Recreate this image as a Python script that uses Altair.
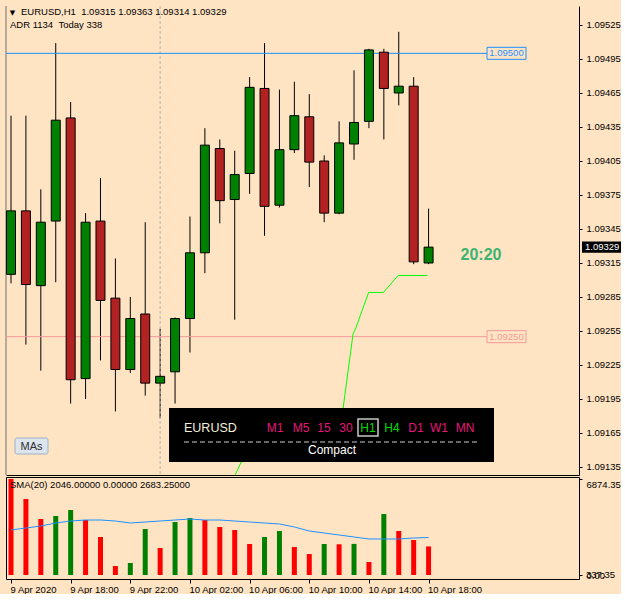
import altair as alt
import pandas as pd

# ---------------- data ----------------
bar_index = list(range(29))  # 9 Apr 14:00 ... 10 Apr 18:00 (H1)
opens = [1.09305, 1.09361, 1.09295, 1.09352, 1.09443, 1.09213, 1.09352, 1.09284, 1.09221, 1.09270,
         1.09209, 1.09219, 1.09266, 1.09324, 1.09416, 1.09371, 1.09394, 1.09469, 1.09366, 1.09415,
         1.09444, 1.09405, 1.09359, 1.09420, 1.09440, 1.09501, 1.09465, 1.09471, 1.09315]
highs = [1.09445, 1.09445, 1.09380, 1.09509, 1.09457, 1.09359, 1.09390, 1.09319, 1.09285, 1.09351,
         1.09257, 1.09267, 1.09356, 1.09434, 1.09424, 1.09414, 1.09479, 1.09509, 1.09468, 1.09475,
         1.09464, 1.09410, 1.09440, 1.09485, 1.09504, 1.09504, 1.09519, 1.09479, 1.09363]
lows = [1.09297, 1.09243, 1.09220, 1.09298, 1.09191, 1.09195, 1.09229, 1.09184, 1.09218, 1.09198,
        1.09178, 1.09191, 1.09236, 1.09306, 1.09350, 1.09265, 1.09376, 1.09339, 1.09364, 1.09412,
        1.09382, 1.09351, 1.09358, 1.09406, 1.09434, 1.09424, 1.09454, 1.09314, 1.09314]
closes = [1.09361, 1.09296, 1.09351, 1.09441, 1.09212, 1.09351, 1.09282, 1.09221, 1.09266, 1.09209,
          1.09215, 1.09266, 1.09324, 1.09419, 1.09370, 1.09393, 1.09470, 1.09365, 1.09415, 1.09445,
          1.09404, 1.09359, 1.09421, 1.09439, 1.09503, 1.09469, 1.09471, 1.09316, 1.09329]

volumes = [6874, 5442, 4010, 4224, 4654, 3938, 2721, 644, 859, 3294,
           1933, 3795, 4081, 3938, 3437, 3222, 2220, 2721, 3150, 2005,
           1504, 2220, 2200, 2230, 931, 4368, 3150, 2506, 2046]
volume_dir = ["dn", "dn", "dn", "up", "up", "dn", "dn", "dn", "up", "up",
              "dn", "up", "up", "dn", "dn", "dn", "dn", "up", "up", "dn",
              "dn", "up", "dn", "up", "dn", "up", "dn", "dn", "dn"]
sma20 = [3222, 3365, 3508, 3723, 3866, 3938, 3938, 3866, 3723, 3795,
         3866, 3938, 4010, 3938, 3938, 3866, 3795, 3723, 3652, 3437,
         3150, 3007, 2864, 2721, 2578, 2578, 2578, 2649, 2683]

adr_x = [15.03, 15.42, 22.27, 22.93, 23.13, 23.98, 24.97, 25.96, 27.93]
adr_p = [1.09128, 1.09139, 1.09187, 1.09252, 1.09258, 1.09289, 1.09289, 1.09304, 1.09304]

price_ticks = [1.09135, 1.09165, 1.09195, 1.09225, 1.09255, 1.09285, 1.09315,
               1.09345, 1.09375, 1.09405, 1.09435, 1.09465, 1.09495, 1.09525]
time_tick_idx = [0, 4, 8, 12, 16, 20, 24, 28]
time_labels = ["9 Apr 2020", "9 Apr 18:00", "9 Apr 22:00", "10 Apr 02:00",
               "10 Apr 06:00", "10 Apr 10:00", "10 Apr 14:00", "10 Apr 18:00"]
blue_level = [1.09500]
red_level = [1.09250]
day_separator = [10]
current_price = [1.09329]
vol_axis_values = [6874.35, 0.0]
timeframes = ["M1", "M5", "15", "30", "H1", "H4", "D1", "W1", "MN"]
tf_colors = ["#E8157A", "#E8157A", "#E8157A", "#E8157A", "#00DD00", "#00DD00", "#E8157A", "#E8157A", "#E8157A"]

# ---------------- layout ----------------
W = 573
H_MAIN = 469
H_VOL = 102
BG = "#FFE4C4"
FONT = "Liberation Sans"

x_scale = alt.Scale(domain=[0.0, 37.75], nice=False, zero=False)
price_scale = alt.Scale(domain=[1.0912794, 1.0954176], nice=False, zero=False)
vol_scale = alt.Scale(domain=[-286.4, 7017.6], nice=False, zero=False)

candles = pd.DataFrame({"i": bar_index, "open": opens, "high": highs, "low": lows, "close": closes})
one = pd.DataFrame({"k": [0]})

price_axis = alt.Axis(orient="right", values=price_ticks, format=".5f", title=None, grid=False,
                      domain=True, domainColor="black", ticks=True, tickColor="black", tickSize=3,
                      labelFont=FONT, labelFontSize=9.5, labelColor="black", labelPadding=4,
                      labelOverlap=False, labelFlush=False)
x_main_axis = alt.Axis(labels=False, ticks=False, domain=True, domainColor="black", title=None,
                       grid=False, minExtent=0, maxExtent=0, offset=0)


def xn(field="i:Q"):
    return alt.X(field, scale=x_scale, axis=x_main_axis)


def yp(field):
    return alt.Y(field, scale=price_scale, axis=price_axis)


wicks = alt.Chart(candles).mark_rule(color="black", strokeWidth=1, clip=True).encode(
    x=xn(), y=yp("low:Q"), y2="high:Q")
bodies = alt.Chart(candles).mark_bar(size=9, stroke="black", strokeWidth=1, clip=True).encode(
    x=xn(), y=yp("open:Q"), y2="close:Q",
    fill=alt.Fill("dir:N", scale=alt.Scale(domain=["up", "dn"], range=["#008000", "#B22222"]), legend=None),
).transform_calculate(dir="datum.close >= datum.open ? 'up' : 'dn'")

separator = alt.Chart(pd.DataFrame({"i": day_separator})).mark_rule(
    color="#B4B4B4", strokeDash=[3, 2], strokeWidth=1).encode(x=xn())

left_border = alt.Chart(one).mark_rule(color="#707070").encode(x=alt.value(0))


def level_layers(levels, color):
    d = pd.DataFrame({"p": levels})
    line = alt.Chart(d).mark_rule(color=color, strokeWidth=1).encode(
        y=yp("p:Q"), x=alt.value(0), x2=alt.value(481))
    box = alt.Chart(d).mark_rect(fill=BG, stroke=color, strokeWidth=1).encode(
        y=yp("lo:Q"), y2="hi:Q", x=alt.value(481), x2=alt.value(520)
    ).transform_calculate(lo="datum.p - 0.000053", hi="datum.p + 0.000053")
    txt = alt.Chart(d).mark_text(color=color, font=FONT, fontSize=9.5, align="center", baseline="middle").encode(
        y=yp("p:Q"), x=alt.value(500.5), text=alt.Text("p:Q", format=".5f"))
    return [line, box, txt]


adr_line = alt.Chart(pd.DataFrame({"i": adr_x, "p": adr_p})).mark_line(
    color="#00FF00", strokeWidth=1, clip=True).encode(x=xn("i:Q"), y=yp("p:Q"))

cp = pd.DataFrame({"p": current_price})
cp_box = alt.Chart(cp).mark_rect(fill="black").encode(
    y=yp("lo:Q"), y2="hi:Q", x=alt.value(576), x2=alt.value(615)
).transform_calculate(lo="datum.p - 0.000050", hi="datum.p + 0.000050")
cp_txt = alt.Chart(cp).mark_text(color="white", font=FONT, fontSize=9.5, align="left", baseline="middle").encode(
    y=yp("p:Q"), x=alt.value(579), text=alt.Text("p:Q", format=".5f"))

countdown = alt.Chart(one).mark_text(color="#3CB371", font=FONT, fontSize=16, fontWeight="bold",
                                     align="center", baseline="middle").encode(
    x=alt.value(475), y=alt.value(249), text=alt.value("20:20"))

header_tri = alt.Chart(one).mark_text(font="DejaVu Sans", fontSize=7, color="black", align="center",
                                      baseline="middle").encode(x=alt.value(6.5), y=alt.value(6.5),
                                                                 text=alt.value("\u25bc"))
header1 = alt.Chart(one).mark_text(font=FONT, fontSize=9.5, color="black", align="left", baseline="middle").encode(
    x=alt.value(15), y=alt.value(6),
    text=alt.value("EURUSD,H1\u00a0\u00a01.09315 1.09363 1.09314 1.09329"))
header2 = alt.Chart(one).mark_text(font=FONT, fontSize=9.5, color="black", align="left", baseline="middle").encode(
    x=alt.value(4), y=alt.value(19), text=alt.value("ADR 1134\u00a0\u00a0Today 338"))

mas_btn = alt.Chart(one).mark_rect(fill="#DCE4EE", stroke="#A0B0C4", strokeWidth=1, cornerRadius=2).encode(
    x=alt.value(9), x2=alt.value(42), y=alt.value(432), y2=alt.value(448))
mas_txt = alt.Chart(one).mark_text(font=FONT, fontSize=11, color="#303030", align="center", baseline="middle").encode(
    x=alt.value(25.5), y=alt.value(440.5), text=alt.value("MAs"))

panel_box = alt.Chart(one).mark_rect(fill="black").encode(
    x=alt.value(163), x2=alt.value(488), y=alt.value(402), y2=alt.value(456))
panel_sym = alt.Chart(one).mark_text(font=FONT, fontSize=12.5, color="#F5F0DC", align="left", baseline="middle").encode(
    x=alt.value(178), y=alt.value(422), text=alt.value("EURUSD"))
tf_x = [269, 295, 318, 340, 362, 386, 410, 433, 459]
tf_layers = []
for lab, col, xx in zip(timeframes, tf_colors, tf_x):
    tf_layers.append(alt.Chart(one).mark_text(font=FONT, fontSize=12, color=col, align="center", baseline="middle").encode(
        x=alt.value(xx), y=alt.value(422), text=alt.value(lab)))
h1_frame = alt.Chart(one).mark_rect(fillOpacity=0, stroke="#C8C8C8", strokeWidth=1.5).encode(
    x=alt.value(352), x2=alt.value(372), y=alt.value(413), y2=alt.value(430))
panel_dash = alt.Chart(one).mark_rule(color="#C8C8C8", strokeDash=[5, 3], strokeWidth=1).encode(
    x=alt.value(178), x2=alt.value(473), y=alt.value(436))
panel_compact = alt.Chart(one).mark_text(font=FONT, fontSize=12, color="white", align="center", baseline="middle").encode(
    x=alt.value(326), y=alt.value(444), text=alt.value("Compact"))

main = alt.layer(
    wicks, separator, left_border,
    *level_layers(blue_level, "#1E90FF"),
    *level_layers(red_level, "#F49A9A"),
    bodies, adr_line, cp_box, cp_txt, countdown,
    header_tri, header1, header2, mas_btn, mas_txt,
    panel_box, panel_sym, *tf_layers, h1_frame, panel_dash, panel_compact,
).properties(width=W, height=H_MAIN)

# ---------------- volume sub-window ----------------
vol = pd.DataFrame({"i": bar_index, "v": volumes, "d": volume_dir, "sma": sma20})

label_expr = "[" + ",".join("'%s'" % s for s in time_labels) + "][indexof([" + \
    ",".join(str(v) for v in time_tick_idx) + "], datum.value)]"
time_axis = alt.Axis(values=time_tick_idx, labelExpr=label_expr, labelAlign="left", labelOffset=-1,
                     tickSize=4, tickColor="black", domain=False, grid=False, title=None,
                     labelFont=FONT, labelFontSize=9.5, labelColor="black", labelPadding=1,
                     labelOverlap=False, labelFlush=False)
vol_axis = alt.Axis(orient="right", values=vol_axis_values, format=".2f", title=None, grid=False,
                    domain=False, tickSize=3, tickColor="black", labelFont=FONT, labelFontSize=9.5,
                    labelColor="black", labelPadding=4,
                    labelBaseline={"condition": {"test": "datum.value > 1000", "value": "top"}, "value": "middle"})


def xv(field="i:Q"):
    return alt.X(field, scale=x_scale, axis=time_axis)


def yv(field):
    return alt.Y(field, scale=vol_scale, axis=vol_axis)


vol_bars = alt.Chart(vol).mark_bar(size=5, clip=True).encode(
    x=xv(), y=yv("v:Q"), y2=alt.datum(0),
    color=alt.Color("d:N", scale=alt.Scale(domain=["up", "dn"], range=["#008000", "#FF0000"]), legend=None),
)
sma_line = alt.Chart(vol).mark_line(color="#1E90FF", strokeWidth=1, clip=True).encode(
    x=xv(), y=yv("sma:Q"))
vol_extra = alt.Chart(pd.DataFrame({"v": [0.0], "t": ["337.35"]})).mark_text(
    font=FONT, fontSize=9.5, color="black", align="left", baseline="middle").encode(
    y=yv("v:Q"), x=alt.value(580), text="t:N")
sma_label = alt.Chart(one).mark_text(font=FONT, fontSize=9.5, color="black", align="left", baseline="middle").encode(
    x=alt.value(4), y=alt.value(8), text=alt.value("SMA(20) 2046.00000 0.00000 2683.25000"))

volume = alt.layer(vol_bars, sma_line, vol_extra, sma_label).properties(
    width=W, height=H_VOL, view=alt.ViewBackground(stroke="black", strokeWidth=1, fill=BG))

chart = alt.vconcat(main, volume, spacing=0).properties(
    padding={"left": 5, "top": 5, "right": 0, "bottom": 0}, background=BG
).configure_view(stroke=None, fill=BG)

chart.save("out.html", embed_options={"renderer": "svg", "actions": False})
